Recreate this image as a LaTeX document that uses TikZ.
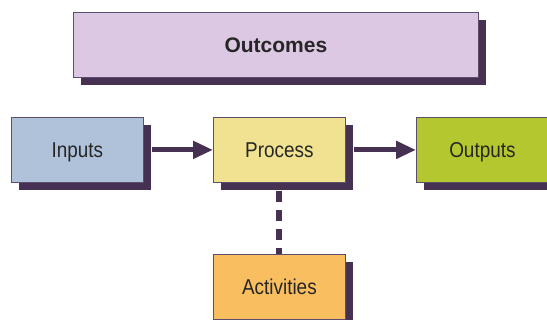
\documentclass[tikz,border=0pt]{standalone}
\usepackage{fontspec}
\setmainfont{Liberation Sans}[FakeStretch=0.88]
\newfontfamily\widesans{Liberation Sans}
\usetikzlibrary{arrows.meta}
\definecolor{shadowc}{HTML}{463152}
\definecolor{borderc}{HTML}{5E4E6E}
\definecolor{outc}{HTML}{DCC8E2}
\definecolor{inc}{HTML}{B0C2DA}
\definecolor{procc}{HTML}{F0E290}
\definecolor{outpc}{HTML}{B5C72F}
\definecolor{actc}{HTML}{F9BE60}
\begin{document}
\begin{tikzpicture}[x=1pt,y=-1pt,
  boxc/.style={draw=borderc, line width=0.8pt, minimum width=132pt, minimum height=65pt, inner sep=0pt, anchor=north west,
    font=\fontsize{21.5}{23}\selectfont, text=black!85, text height=15.5pt, text depth=0pt,
    preaction={fill=shadowc, transform canvas={shift={(8pt,-8pt)}}}},
  flowarrow/.style={draw=shadowc, line width=5pt, -{Triangle[length=20pt,width=17pt]}},
  dashlink/.style={draw=shadowc, line width=6pt, dash pattern=on 11pt off 8pt}]
\useasboundingbox (0,0) rectangle (547,320);
\node[boxc, fill=outc, minimum width=405pt, font=\widesans\fontsize{21}{23}\selectfont\bfseries] (outcomes) at (73,12) {Outcomes};
\node[boxc, fill=inc] (inputs) at (11,117) {Inputs};
\node[boxc, fill=procc] (process) at (213,117) {Process};
\node[boxc, fill=outpc] (outputs) at (416,117) {Outputs};
\node[boxc, fill=actc] (activities) at (213,254) {Activities};
\draw[flowarrow] ([xshift=8pt]inputs.east) -- (process.west);
\draw[flowarrow] ([xshift=8pt]process.east) -- (outputs.west);
\draw[dashlink] ([yshift=-8pt]process.south) -- (activities.north);
\end{tikzpicture}
\end{document}
